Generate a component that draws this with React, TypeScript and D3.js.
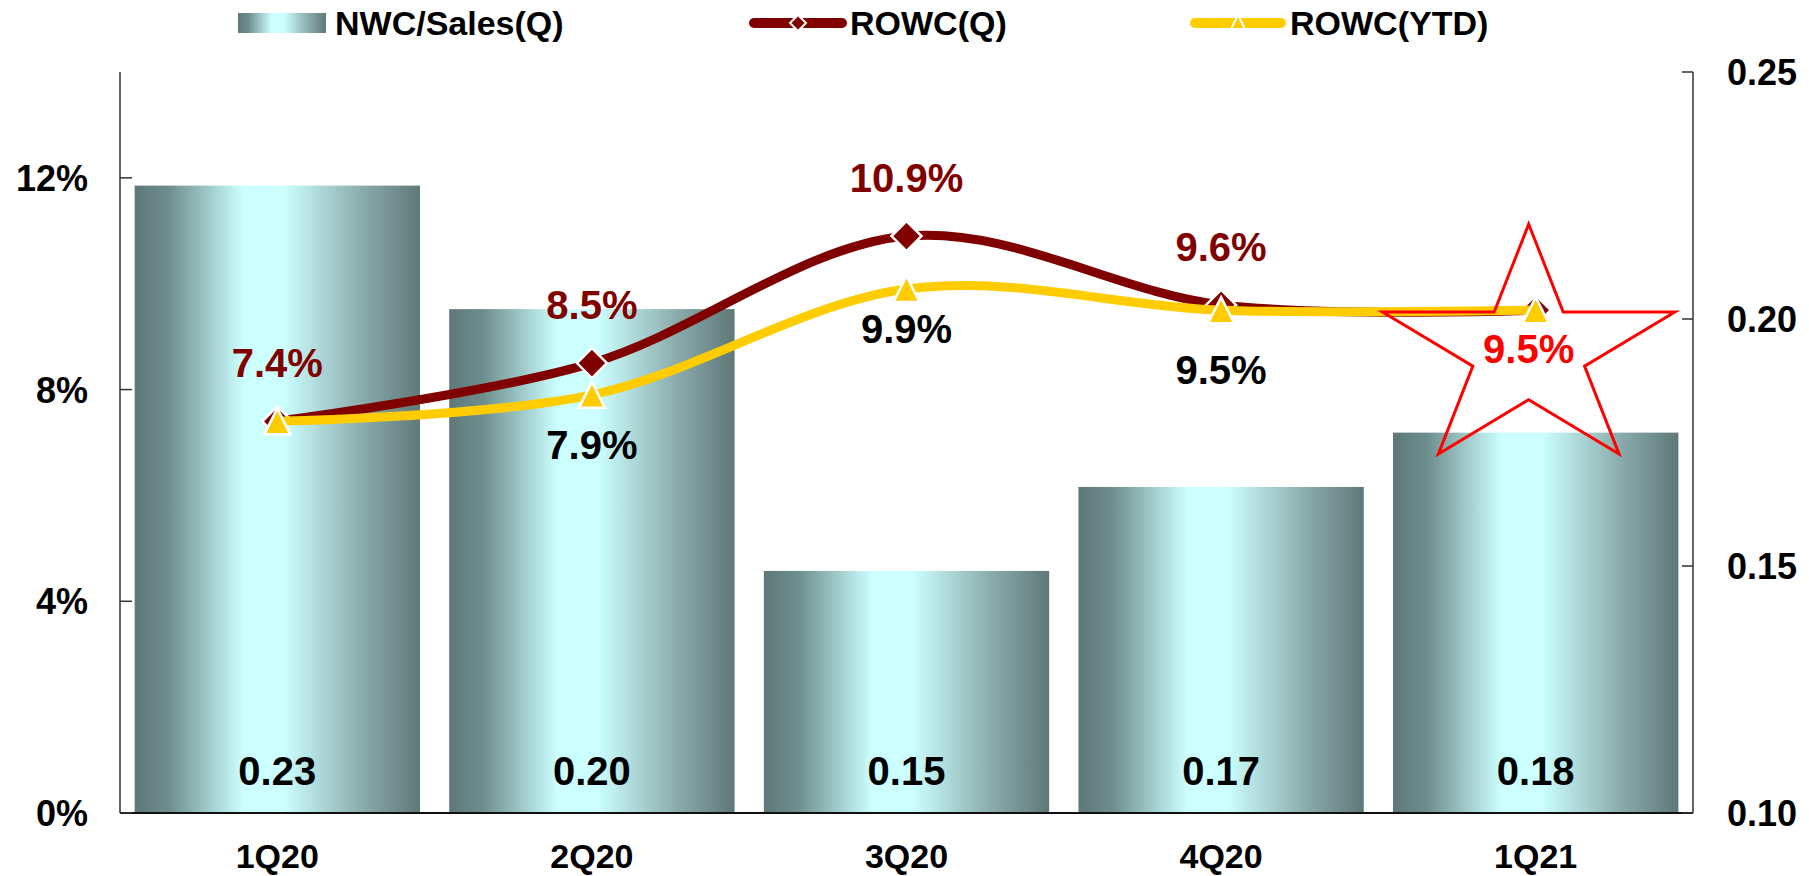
import * as d3 from 'd3'

// chart values
const categories = ['1Q20', '2Q20', '3Q20', '4Q20', '1Q21']
const nwcSales = [0.227, 0.202, 0.149, 0.166, 0.177]
const nwcLabels = ['0.23', '0.20', '0.15', '0.17', '0.18']
const rowcQ = [0.074, 0.085, 0.109, 0.096, 0.095]
const rowcYtd = [0.074, 0.079, 0.099, 0.095, 0.095]
const rowcQLabels = ['7.4%', '8.5%', '10.9%', '9.6%', '']
const rowcYtdLabels = ['', '7.9%', '9.9%', '9.5%', '9.5%']
const leftTicks = [0, 0.04, 0.08, 0.12]
const rightTicks = [0.1, 0.15, 0.2, 0.25]

// label offsets below the YTD markers (layout only)
const ytdLabelDy = [0, 64, 54, 74, 53]

const W = 1809
const H = 876
const plot = { left: 120, right: 1693, top: 72, bottom: 813 }
const FONT = '"Liberation Sans", Arial, sans-serif'

const DARK_RED = '#800000'
const GOLD = '#FFCC00'

function diamond(r: number) {
  return `M0,${-r}L${r},0L0,${r}L${-r},0Z`
}
function triangle(r: number) {
  return `M0,${-r}L${r},${r}L${-r},${r}Z`
}
function star(cx: number, cy: number, R: number, sx: number) {
  const r = R * 0.382
  const pts: [number, number][] = []
  for (let i = 0; i < 10; i++) {
    const a = -Math.PI / 2 + (i * Math.PI) / 5
    const rad = i % 2 === 0 ? R : r
    pts.push([cx + Math.cos(a) * rad * sx, cy + Math.sin(a) * rad])
  }
  return 'M' + pts.map((p) => p.join(',')).join('L') + 'Z'
}

export default function App() {
  const x = d3
    .scaleBand<string>()
    .domain(categories)
    .range([plot.left, plot.right])
    .paddingInner(0.093)
    .paddingOuter(0.0465)
  const cx = (c: string) => (x(c) ?? 0) + x.bandwidth() / 2

  const yL = d3.scaleLinear().domain([0, 0.14]).range([plot.bottom, plot.top])
  const yR = d3.scaleLinear().domain([0.1, 0.25]).range([plot.bottom, plot.top])

  const line = d3
    .line<number>()
    .x((_, i) => cx(categories[i]))
    .y((d) => yL(d))
    .curve(d3.curveCardinal.tension(0))

  const last = categories.length - 1
  const starCx = cx(categories[last]) - 7
  const starCy = yL(rowcYtd[last]) + 41

  return (
    <svg
      width={W}
      height={H}
      style={{ position: 'absolute', left: 0, top: 0, background: '#fff' }}
      fontFamily={FONT}
      fontWeight="bold"
    >
      <defs>
        <linearGradient id="barGrad" x1="0" y1="0" x2="1" y2="0">
          <stop offset="0" stopColor="#5F7878" />
          <stop offset="0.12" stopColor="#6E8E8E" />
          <stop offset="0.38" stopColor="#CCFFFF" />
          <stop offset="0.52" stopColor="#CCFFFF" />
          <stop offset="0.8" stopColor="#8AABAB" />
          <stop offset="1" stopColor="#5F7878" />
        </linearGradient>
      </defs>

      {/* legend */}
      <g>
        <rect x={238} y={13} width={88} height={20} fill="url(#barGrad)" />
        <text x={335} y={35} fontSize={34}>NWC/Sales(Q)</text>

        <line x1={754} x2={842} y1={23} y2={23} stroke={DARK_RED} strokeWidth={10} strokeLinecap="round" />
        <path d={diamond(8)} transform="translate(798,23)" fill={DARK_RED} stroke="#fff" strokeWidth={2} />
        <text x={850} y={35} fontSize={34}>ROWC(Q)</text>

        <line x1={1195} x2={1281} y1={23} y2={23} stroke={GOLD} strokeWidth={10} strokeLinecap="round" />
        <path d={triangle(7)} transform="translate(1238,22)" fill={GOLD} stroke="#fff" strokeWidth={2} />
        <text x={1290} y={35} fontSize={34}>ROWC(YTD)</text>
      </g>

      {/* bars */}
      {categories.map((c, i) => (
        <rect
          key={c}
          x={x(c)}
          y={yR(nwcSales[i])}
          width={x.bandwidth()}
          height={plot.bottom - yR(nwcSales[i])}
          fill="url(#barGrad)"
        />
      ))}
      {categories.map((c, i) => (
        <text key={c} x={cx(c)} y={785} textAnchor="middle" fontSize={40} fill="#000">
          {nwcLabels[i]}
        </text>
      ))}

      {/* axes */}
      <g stroke="#333" strokeWidth={1.5} fill="none">
        <line x1={plot.left} x2={plot.left} y1={plot.top} y2={plot.bottom} />
        <line x1={plot.right} x2={plot.right} y1={plot.top} y2={plot.bottom} />
        <line x1={plot.left} x2={plot.right} y1={plot.bottom} y2={plot.bottom} stroke="#111" strokeWidth={2} />
        {leftTicks.map((t) => (
          <line key={t} x1={plot.left} x2={plot.left + 12} y1={yL(t)} y2={yL(t)} />
        ))}
        {rightTicks.map((t) => (
          <line key={t} x1={plot.right - 11} x2={plot.right} y1={yR(t)} y2={yR(t)} />
        ))}
      </g>
      {leftTicks.map((t) => (
        <text key={t} x={88} y={yL(t)} dy="0.36em" textAnchor="end" fontSize={36}>
          {d3.format('.0%')(t)}
        </text>
      ))}
      {rightTicks.map((t) => (
        <text key={t} x={1727} y={yR(t)} dy="0.36em" textAnchor="start" fontSize={36}>
          {d3.format('.2f')(t)}
        </text>
      ))}
      {categories.map((c) => (
        <text key={c} x={cx(c)} y={868} textAnchor="middle" fontSize={34}>
          {c}
        </text>
      ))}

      {/* ROWC(Q) */}
      <path d={line(rowcQ) ?? ''} fill="none" stroke={DARK_RED} strokeWidth={9} />
      {rowcQ.map((v, i) => (
        <path
          key={i}
          d={diamond(15)}
          transform={`translate(${cx(categories[i])},${yL(v)})`}
          fill={DARK_RED}
          stroke="#fff"
          strokeWidth={2.5}
        />
      ))}

      {/* ROWC(YTD) */}
      <path d={line(rowcYtd) ?? ''} fill="none" stroke={GOLD} strokeWidth={9} />
      <path d={star(starCx, starCy, 127, 1.21)} fill="none" stroke="#FF0000" strokeWidth={3} />
      {rowcYtd.map((v, i) => (
        <path
          key={i}
          d={triangle(13)}
          transform={`translate(${cx(categories[i])},${yL(v)})`}
          fill={GOLD}
          stroke="#fff"
          strokeWidth={2.5}
        />
      ))}

      {/* value labels */}
      {rowcQ.map((v, i) =>
        rowcQLabels[i] ? (
          <text key={i} x={cx(categories[i])} y={yL(v) - 44} textAnchor="middle" fontSize={40} fill={DARK_RED}>
            {rowcQLabels[i]}
          </text>
        ) : null
      )}
      {rowcYtd.map((v, i) =>
        rowcYtdLabels[i] ? (
          <text
            key={i}
            x={i === last ? starCx : cx(categories[i])}
            y={yL(v) + ytdLabelDy[i]}
            textAnchor="middle"
            fontSize={40}
            fill={i === last ? '#FF0000' : '#000'}
          >
            {rowcYtdLabels[i]}
          </text>
        ) : null
      )}
    </svg>
  )
}
